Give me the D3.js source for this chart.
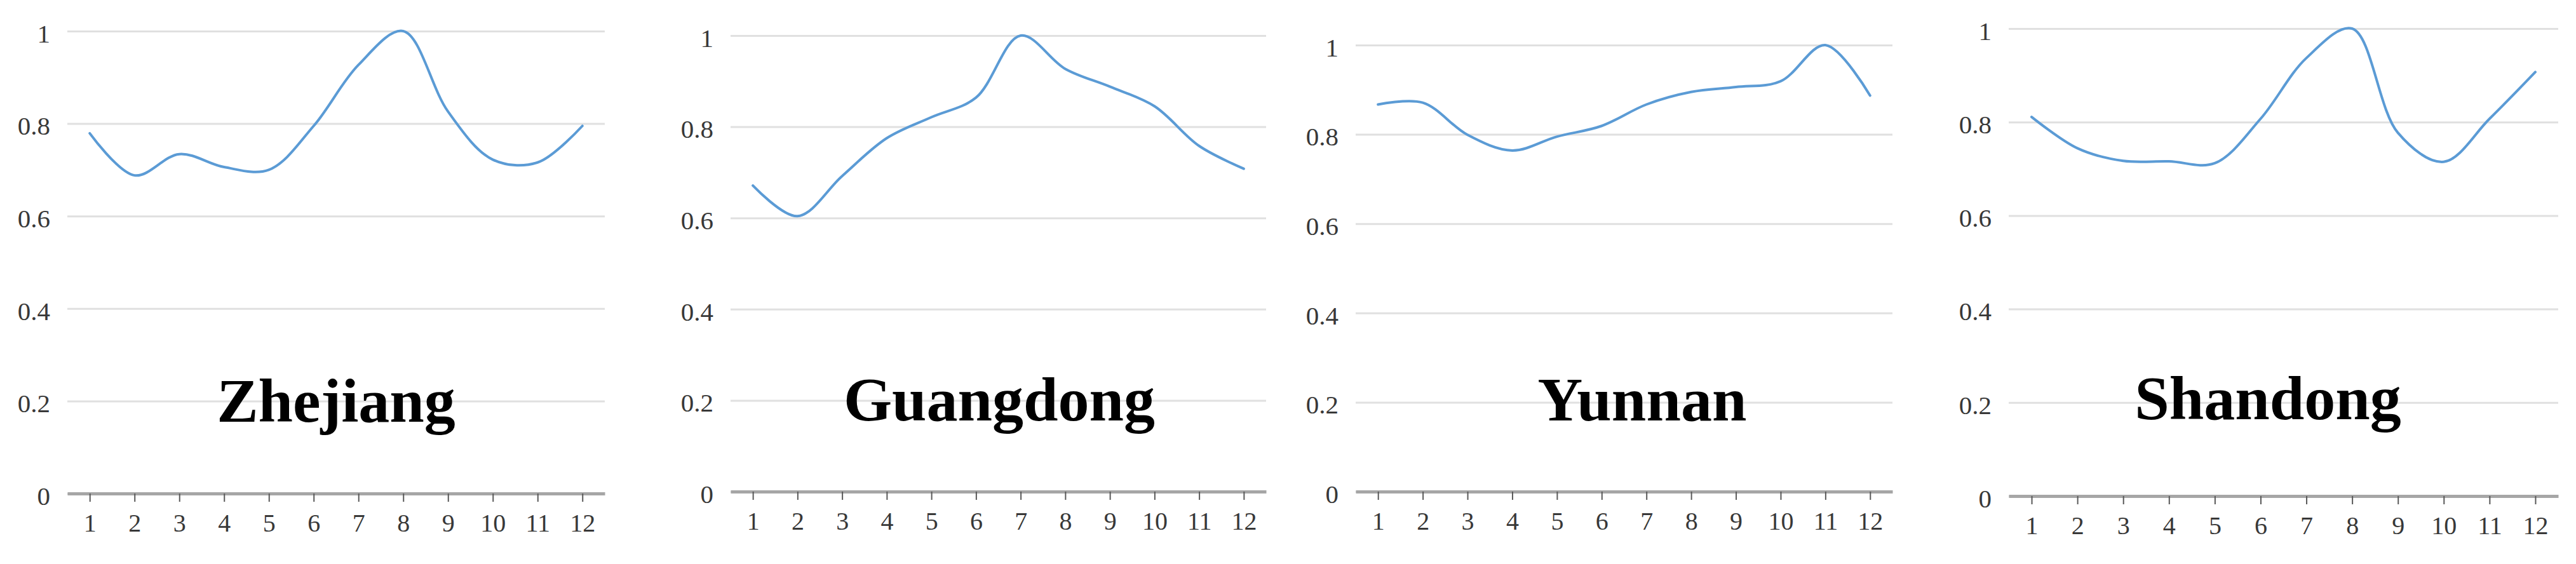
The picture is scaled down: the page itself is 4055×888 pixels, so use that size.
<!DOCTYPE html>
<html>
<head>
<meta charset="utf-8">
<script src="https://cdn.jsdelivr.net/npm/d3@7"></script>
<style>
  body { margin: 0; background: #fff; }
  svg { display: block; }
</style>
</head>
<body>
<svg id="chart" width="4055" height="888"></svg>
<script>
// data
const months = [1, 2, 3, 4, 5, 6, 7, 8, 9, 10, 11, 12];
const provinces = ["Zhejiang", "Guangdong", "Yunnan", "Shandong"];
const zhejiang  = [0.779, 0.688, 0.734, 0.706, 0.700, 0.795, 0.927, 1.000, 0.826, 0.722, 0.716, 0.795];
const guangdong = [0.671, 0.604, 0.692, 0.775, 0.821, 0.864, 1.000, 0.927, 0.888, 0.845, 0.758, 0.708];
const yunnan    = [0.867, 0.871, 0.799, 0.764, 0.795, 0.819, 0.867, 0.895, 0.906, 0.919, 1.000, 0.887];
const shandong  = [0.811, 0.744, 0.717, 0.716, 0.712, 0.807, 0.937, 1.000, 0.777, 0.715, 0.807, 0.907];
const yTicks = [0, 0.2, 0.4, 0.6, 0.8, 1];

const seriesList = [zhejiang, guangdong, yunnan, shandong];

// panel frames (pixels)
const panels = [
  { left: 106,  right: 952,  top: 49, bottom: 777, titleX: 529,  titleY: 664 },
  { left: 1150, right: 1993, top: 56, bottom: 774, titleX: 1573, titleY: 662 },
  { left: 2134, right: 2979, top: 71, bottom: 774, titleX: 2585, titleY: 662 },
  { left: 3162, right: 4027, top: 45, bottom: 781, titleX: 3570, titleY: 660 }
];

const lineColor = "#5b9bd5",
  gridColor = "#e0e0e0",
  axisColor = "#a6a6a6",
  labelColor = "#383838",
  serif = "'Liberation Serif', 'Times New Roman', serif";

const svg = d3.select("#chart");

panels.forEach(function(p, i) {
  const values = seriesList[i];
  const g = svg.append("g").attr("class", "panel");

  const x = d3.scalePoint()
    .domain(months)
    .range([p.left, p.right])
    .padding(0.5);

  const y = d3.scaleLinear()
    .domain([0, 1])
    .range([p.bottom, p.top]);

  // y gridlines + labels
  const yAxis = g.append("g")
    .attr("transform", `translate(${p.left},0)`)
    .call(d3.axisLeft(y)
      .tickValues(yTicks)
      .tickFormat(d3.format("~g"))
      .tickSize(-(p.right - p.left))
      .tickPadding(27));
  yAxis.select(".domain").remove();
  yAxis.selectAll(".tick line")
    .attr("stroke", gridColor)
    .attr("stroke-width", 3);
  yAxis.selectAll(".tick text")
    .attr("fill", labelColor)
    .attr("dy", "0.42em")
    .style("font", `41px ${serif}`);

  // x axis
  const xAxis = g.append("g")
    .attr("transform", `translate(0,${p.bottom})`)
    .call(d3.axisBottom(x)
      .tickSize(13)
      .tickSizeOuter(0)
      .tickPadding(19));
  xAxis.select(".domain")
    .attr("stroke", axisColor)
    .attr("stroke-width", 5);
  xAxis.selectAll(".tick line")
    .attr("stroke", "#595959")
    .attr("stroke-width", 2);
  xAxis.selectAll(".tick text")
    .attr("fill", labelColor)
    .style("font", `40px ${serif}`);

  // province name
  g.append("text")
    .attr("x", p.titleX)
    .attr("y", p.titleY)
    .attr("text-anchor", "middle")
    .attr("fill", "#000")
    .style("font", `bold 98px ${serif}`)
    .text(provinces[i]);

  // smoothed line
  const line = d3.line()
    .x((d, j) => x(months[j]))
    .y(d => y(d))
    .curve(d3.curveCatmullRom.alpha(0.5));

  g.append("path")
    .datum(values)
    .attr("fill", "none")
    .attr("stroke", lineColor)
    .attr("stroke-width", 4)
    .attr("stroke-linecap", "round")
    .attr("d", line);
});
</script>
</body>
</html>
